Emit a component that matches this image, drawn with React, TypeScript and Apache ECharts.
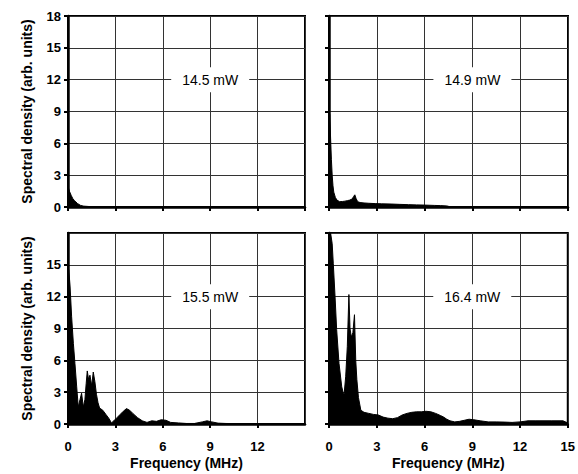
import React, { useEffect, useRef } from "react";
import * as echarts from "echarts";

// Panel labels (pump power)
const panelLabels = ["14.5 mW", "14.9 mW", "15.5 mW", "16.4 mW"];

// Frequency ticks (MHz) and density ticks
const freqTicks = [0, 3, 6, 9, 12, 15];
const densTicks = [0, 3, 6, 9, 12, 15, 18];

// Panel A: 14.5 mW
const freqA = [0, 0.05, 0.1, 0.2, 0.3, 0.4, 0.5, 0.6, 0.7, 0.8, 1.0, 1.3, 1.6, 2, 3, 5, 8, 11, 15];
const densA = [1.9, 1.7, 1.45, 1.1, 0.8, 0.62, 0.48, 0.33, 0.24, 0.15, 0.08, 0.05, 0.03, 0.02, 0.02, 0.01, 0.01, 0.01, 0.01];

// Panel B: 14.9 mW
const freqB = [0, 0.05, 0.1, 0.15, 0.2, 0.25, 0.3, 0.4, 0.5, 0.67, 0.85, 1.0, 1.15, 1.3, 1.45, 1.55, 1.62, 1.7, 1.8, 1.95, 2.2, 2.5, 2.9, 3.3, 3.9, 4.4, 5.0, 5.5, 6.0, 6.6, 7.0, 7.4, 7.6, 9, 12, 15];
const densB = [9.0, 8.7, 6.5, 4.5, 3.0, 2.0, 1.4, 0.9, 0.65, 0.5, 0.52, 0.55, 0.6, 0.65, 0.75, 1.0, 1.15, 0.8, 0.5, 0.42, 0.38, 0.35, 0.32, 0.3, 0.28, 0.25, 0.22, 0.2, 0.18, 0.15, 0.13, 0.1, 0.02, 0.01, 0.01, 0.01];

// Panel C: 15.5 mW
const freqC = [0, 0.05, 0.13, 0.23, 0.34, 0.44, 0.55, 0.65, 0.76, 0.86, 0.97, 1.07, 1.15, 1.22, 1.3, 1.39, 1.5, 1.6, 1.7, 1.8, 1.9, 2.0, 2.2, 2.4, 2.6, 2.75, 2.9, 3.1, 3.3, 3.5, 3.7, 3.9, 4.1, 4.4, 4.7, 5.0, 5.3, 5.6, 5.9, 6.2, 6.5, 7, 7.5, 8, 8.5, 8.8, 9.1, 9.5, 10, 11, 12, 13, 15];
const densC = [14.8, 14.5, 13, 10.1, 7.6, 5.7, 3.5, 1.6, 2.3, 2.9, 1.6, 2.3, 3.8, 5.0, 4.2, 4.6, 3.6, 4.9, 4.0, 2.8, 2.0, 1.5, 1.3, 0.9, 0.5, 0.1, 0.3, 0.6, 0.9, 1.2, 1.45, 1.3, 1.0, 0.6, 0.3, 0.15, 0.3, 0.25, 0.4, 0.35, 0.15, 0.1, 0.05, 0.05, 0.2, 0.3, 0.2, 0.08, 0.05, 0.03, 0.02, 0.02, 0.02];

// Panel D: 16.4 mW
const freqD = [0, 0.1, 0.2, 0.27, 0.38, 0.48, 0.63, 0.8, 0.9, 0.95, 1.05, 1.15, 1.25, 1.32, 1.4, 1.5, 1.6, 1.68, 1.75, 1.85, 2.0, 2.2, 2.5, 2.8, 3.1, 3.4, 3.7, 4.0, 4.3, 4.6, 4.9, 5.2, 5.5, 5.8, 6.1, 6.4, 6.7, 7.0, 7.2, 7.4, 7.6, 7.9, 8.2, 8.5, 8.8, 9.1, 9.5, 10, 10.5, 11, 11.5, 12, 12.5, 13, 14, 14.7, 15];
const densD = [18, 18, 17, 15.1, 12, 8.9, 5.7, 3.5, 2.9, 2.8, 4.5, 7.3, 12.2, 9.0, 8.2, 8.6, 10.3, 6.0, 4.2, 2.5, 1.3, 1.1, 1.0, 0.9, 0.85, 0.65, 0.55, 0.5, 0.6, 0.85, 1.0, 1.1, 1.15, 1.15, 1.2, 1.15, 1.0, 0.8, 0.65, 0.45, 0.3, 0.2, 0.25, 0.35, 0.45, 0.4, 0.3, 0.2, 0.2, 0.18, 0.15, 0.2, 0.3, 0.3, 0.3, 0.3, 0.1];

const panels = [
  { f: freqA, d: densA },
  { f: freqB, d: densB },
  { f: freqC, d: densC },
  { f: freqD, d: densD },
];

const FONT = "'Liberation Sans', Arial, sans-serif";

export default function App() {
  const ref = useRef<HTMLDivElement>(null);
  useEffect(() => {
    if (!ref.current) return;
    const chart = echarts.init(ref.current, undefined, { renderer: "svg" });
    const boxes = [
      { left: 68, top: 16, width: 237, height: 191 },
      { left: 329, top: 16, width: 239, height: 191 },
      { left: 68, top: 233, width: 237, height: 191 },
      { left: 329, top: 233, width: 239, height: 191 },
    ];
    const grids = boxes.map((b) => ({
      ...b,
      show: true,
      borderColor: "#000",
      borderWidth: 2,
      backgroundColor: "transparent",
      containLabel: false,
    }));
    const xAxes = boxes.map((_, i) => {
      const bottom = i >= 2;
      return {
        gridIndex: i,
        type: "value",
        min: freqTicks[0],
        max: freqTicks[freqTicks.length - 1],
        interval: freqTicks[1] - freqTicks[0],
        axisLine: { show: true, onZero: false, lineStyle: { color: "#000", width: 2.5 } },
        axisTick: { show: true, length: 4, inside: false, lineStyle: { color: "#000", width: 2 } },
        axisLabel: {
          show: bottom,
          margin: 16,
          color: "#000",
          fontWeight: "bold",
          fontSize: 13,
          fontFamily: FONT,
          showMaxLabel: i === 3,
        },
        splitLine: { show: true, lineStyle: { color: "#333", width: 1 } },
        name: bottom ? "Frequency (MHz)" : "",
        nameLocation: "middle",
        nameGap: 32,
        nameTextStyle: { color: "#000", fontWeight: "bold", fontSize: 14, fontFamily: FONT },
      };
    });
    const yAxes = boxes.map((_, i) => {
      const left = i % 2 === 0;
      return {
        gridIndex: i,
        type: "value",
        min: densTicks[0],
        max: densTicks[densTicks.length - 1],
        interval: densTicks[1] - densTicks[0],
        axisLine: { show: true, onZero: false, lineStyle: { color: "#000", width: 2.5 } },
        axisTick: { show: true, length: 4, inside: false, lineStyle: { color: "#000", width: 2 } },
        axisLabel: {
          show: left,
          margin: 7,
          color: "#000",
          fontWeight: "bold",
          fontSize: 13,
          fontFamily: FONT,
          showMaxLabel: i === 0,
        },
        splitLine: { show: true, lineStyle: { color: "#333", width: 1 } },
        name: left ? "Spectral density (arb. units)" : "",
        nameLocation: "middle",
        nameGap: 34,
        nameTextStyle: { color: "#000", fontWeight: "bold", fontSize: 14, fontFamily: FONT },
      };
    });
    const series = panels.map((p, i) => ({
      type: "line",
      xAxisIndex: i,
      yAxisIndex: i,
      data: p.f.map((x, k) => [x, p.d[k]]),
      symbol: "none",
      clip: true,
      lineStyle: { color: "#000", width: 1 },
      areaStyle: { color: "#000", opacity: 1 },
      markPoint: {
        silent: true,
        symbol: "rect",
        symbolSize: [78, 25],
        itemStyle: { color: "#fff" },
        label: {
          show: true,
          position: "inside",
          formatter: panelLabels[i],
          color: "#000",
          fontSize: 14,
          fontFamily: FONT,
        },
        data: [{ coord: [9, 12] }],
      },
    }));
    chart.setOption({
      animation: false,
      backgroundColor: "#fff",
      grid: grids,
      xAxis: xAxes,
      yAxis: yAxes,
      series,
    });
    return () => chart.dispose();
  }, []);
  return (
    <div
      ref={ref}
      style={{ position: "absolute", left: 0, top: 0, width: 578, height: 474 }}
    />
  );
}
